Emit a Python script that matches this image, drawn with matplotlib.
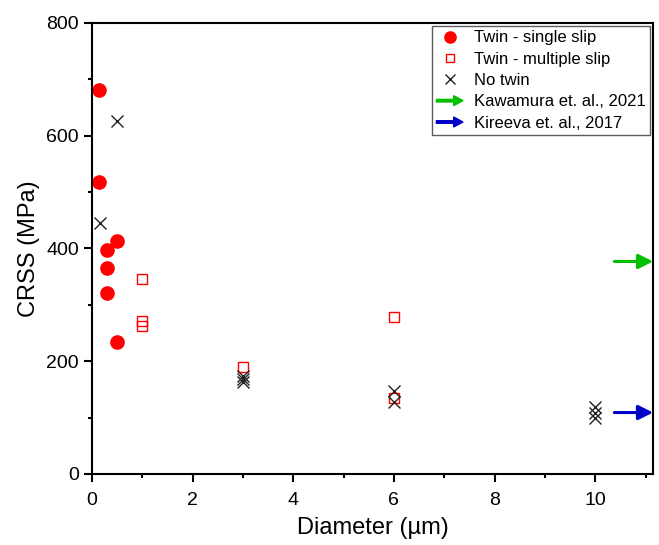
import matplotlib
matplotlib.use("Agg")
import matplotlib.pyplot as plt
import matplotlib.patches as mpatches
from matplotlib.legend_handler import HandlerPatch
from matplotlib.ticker import MultipleLocator

plt.rcParams['font.family'] = ['Liberation Sans', 'DejaVu Sans']

# data
single_x = [0.14, 0.14, 0.5, 0.3, 0.3, 0.3, 0.5]
single_y = [681, 518, 413, 397, 366, 321, 234]

multi_x = [1, 1, 1, 3, 6, 6]
multi_y = [346, 272, 262, 190, 278, 135]

notwin_x = [0.5, 0.15, 3, 3, 3, 6, 6, 10, 10, 10]
notwin_y = [626, 446, 174, 168, 163, 147, 128, 119, 108, 100]

ref_labels = ['Kawamura et. al., 2021', 'Kireeva et. al., 2017']
ref_values = [377, 109]
ref_colors = ['#00c000', '#0000c8']

fig = plt.figure(figsize=(6.59, 5.45), dpi=100)
ax = fig.add_axes([0.1396, 0.1303, 0.8514, 0.8275])

ax.plot(single_x, single_y, 'o', color='red', ms=9.5, ls='none',
        label='Twin - single slip')
ax.plot(multi_x, multi_y, 's', mfc='none', mec='red', mew=1.0, ms=7,
        ls='none', label='Twin - multiple slip')
ax.plot(notwin_x, notwin_y, 'x', color='#222222', mew=1.0, ms=9,
        ls='none', label='No twin')

xmax = 11.15
for v, c in zip(ref_values, ref_colors):
    ax.annotate('', xy=(xmax, v), xytext=(10.38, v),
                arrowprops=dict(arrowstyle='-|>', color=c, lw=2.2,
                                mutation_scale=22, shrinkA=0, shrinkB=0),
                annotation_clip=False)

ax.set_xlim(0, xmax)
ax.set_ylim(0, 800)
ax.xaxis.set_major_locator(MultipleLocator(2))
ax.xaxis.set_minor_locator(MultipleLocator(1))
ax.yaxis.set_major_locator(MultipleLocator(200))
ax.yaxis.set_minor_locator(MultipleLocator(100))
ax.tick_params(which='both', direction='out', width=1.5, labelsize=14,
               top=False, right=False)
ax.tick_params(which='major', length=6)
ax.tick_params(which='minor', length=3)
ax.tick_params(axis='x', which='major', pad=7)
for s in ax.spines.values():
    s.set_linewidth(1.5)

ax.set_xlabel('Diameter (\u00b5m)', fontsize=17, labelpad=6)
ax.set_ylabel('CRSS (MPa)', fontsize=17)


def make_arrow(legend, orig_handle, xdescent, ydescent, width, height, fontsize):
    return mpatches.FancyArrow(0, 0.5 * height, width, 0,
                               width=height * 0.22, head_width=height * 0.85,
                               head_length=height * 0.8,
                               length_includes_head=True)


handles, labels = ax.get_legend_handles_labels()
for lab, c in zip(ref_labels, ref_colors):
    handles.append(mpatches.FancyArrow(0, 0, 1, 0, color=c))
    labels.append(lab)

leg = ax.legend(handles, labels, loc='upper right', fontsize=12,
                frameon=True, fancybox=False, edgecolor='#333333',
                borderaxespad=0.2, handlelength=1.6, handletextpad=0.65,
                labelspacing=0.38, borderpad=0.25, markerscale=0.85,
                handler_map={mpatches.FancyArrow: HandlerPatch(patch_func=make_arrow)})
leg.get_frame().set_linewidth(1.0)

fig.savefig('out.png', dpi=100)
